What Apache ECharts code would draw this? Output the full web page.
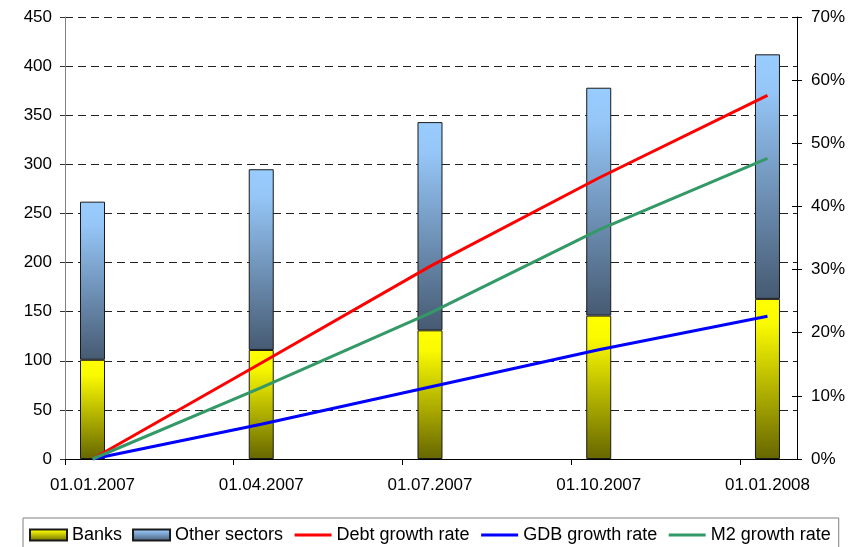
<!DOCTYPE html>
<html>
<head>
<meta charset="utf-8">
<script src="https://cdn.jsdelivr.net/npm/echarts@6/dist/echarts.min.js"></script>
<style>
  html, body { margin: 0; padding: 0; background: #fff; }
  #chart { width: 857px; height: 547px; }
</style>
</head>
<body>
<div id="chart"></div>
<script>
// Quarter dates shown on the horizontal axis
const categories = ['01.01.2007', '01.04.2007', '01.07.2007', '01.10.2007', '01.01.2008'];

// Outstanding debt by borrower (left axis)
const banks = [101, 111, 131, 146, 163];
const otherSectors = [161, 184, 212, 232, 249];

// Cumulative growth rates, % (right axis)
const debtGrowth = [0, 15.2, 30.5, 44.5, 57.6];
const gdbGrowth = [0, 5.5, 11.4, 17.3, 22.6];
const m2Growth = [0, 11.3, 23.1, 36.3, 47.6];

// Axis ticks
const leftTicks = { min: 0, max: 450, step: 50 };
const rightTicks = { min: 0, max: 70, step: 10 };

// Each quarter occupies one unit of the x scale; bars sit a little right of the quarter tick.
const barShift = 0.163;
const xMax = 4.338;

const FONT = '"Liberation Sans", Arial, sans-serif';
// [value, x] pairs; the value comes first so that stacking applies to it
const at = (arr) => arr.map((v, i) => [v, i + barShift]);
const enc = { x: 1, y: 0 };

const chart = echarts.init(document.getElementById('chart'), null, { renderer: 'canvas' });

const vGrad = (top, mid, bottom) => new echarts.graphic.LinearGradient(0, 0, 0, 1, [
  { offset: 0, color: top },
  { offset: 0.15, color: mid },
  { offset: 1, color: bottom }
]);

const noMarker = { color: 'rgba(0,0,0,0)', borderWidth: 0 };
const legendLine = { width: 3 };

chart.setOption({
  animation: false,
  backgroundColor: '#ffffff',
  textStyle: { fontFamily: FONT, color: '#000' },
  grid: { left: 65, right: 60, top: 17, bottom: 88, containLabel: false },
  legend: {
    left: 23,
    top: 518,
    padding: [8, 8, 14, 6],
    borderColor: '#808080',
    borderWidth: 1,
    itemGap: 10,
    itemWidth: 37,
    itemHeight: 11,
    textStyle: { fontFamily: FONT, fontSize: 18, color: '#000' },
    data: [
      { name: 'Banks', icon: 'rect' },
      { name: 'Other sectors', icon: 'rect' },
      { name: 'Debt growth rate', itemStyle: noMarker, lineStyle: legendLine },
      { name: 'GDB growth rate', itemStyle: noMarker, lineStyle: legendLine },
      { name: 'M2 growth rate', itemStyle: noMarker, lineStyle: legendLine }
    ]
  },
  xAxis: {
    type: 'value',
    min: 0,
    max: xMax,
    axisLine: { show: true, onZero: false, lineStyle: { color: '#000', width: 1 } },
    axisTick: {
      show: true,
      length: 6,
      lineStyle: { color: '#000' },
      customValues: categories.map((_, i) => i)
    },
    axisLabel: {
      fontFamily: FONT,
      fontSize: 17,
      color: '#000',
      margin: 18,
      customValues: categories.map((_, i) => i + barShift),
      formatter: (v) => categories[Math.round(v - barShift)] || ''
    },
    splitLine: { show: false }
  },
  yAxis: [
    {
      type: 'value',
      min: leftTicks.min,
      max: leftTicks.max,
      interval: leftTicks.step,
      position: 'left',
      axisLine: { show: true, lineStyle: { color: '#808080', width: 1 } },
      axisTick: { show: true, length: 5, lineStyle: { color: '#333' } },
      axisLabel: { fontFamily: FONT, fontSize: 17, color: '#000', margin: 13 },
      splitLine: { show: true, lineStyle: { color: '#222', type: [8, 5], width: 1 } }
    },
    {
      type: 'value',
      min: rightTicks.min,
      max: rightTicks.max,
      interval: rightTicks.step,
      position: 'right',
      axisLine: { show: true, lineStyle: { color: '#000', width: 1 } },
      axisTick: { show: true, length: 5, lineStyle: { color: '#000' } },
      axisLabel: { fontFamily: FONT, fontSize: 17, color: '#000', margin: 14, formatter: '{value}%' },
      splitLine: { show: false }
    },
    {
      // inner half of the crossing ticks on the right axis
      type: 'value',
      min: rightTicks.min,
      max: rightTicks.max,
      interval: rightTicks.step,
      position: 'right',
      axisLine: { show: false },
      axisTick: { show: true, inside: true, length: 5, lineStyle: { color: '#000' } },
      axisLabel: { show: false },
      splitLine: { show: false }
    }
  ],
  series: [
    {
      name: 'Banks',
      type: 'bar',
      stack: 'debt',
      barWidth: 25,
      yAxisIndex: 0,
      encode: enc,
      itemStyle: {
        color: vGrad('#ffff00', '#fbfb00', '#666600'),
        borderColor: '#1a1a1a',
        borderWidth: 1
      },
      data: at(banks),
      z: 2
    },
    {
      name: 'Other sectors',
      type: 'bar',
      stack: 'debt',
      barWidth: 25,
      yAxisIndex: 0,
      encode: enc,
      itemStyle: {
        color: vGrad('#99ccff', '#95c6f7', '#465a72'),
        borderColor: '#1a1a1a',
        borderWidth: 1
      },
      data: at(otherSectors),
      z: 2
    },
    {
      name: 'Debt growth rate',
      type: 'line',
      yAxisIndex: 1,
      symbol: 'none',
      encode: enc,
      lineStyle: { color: '#ff0000', width: 3 },
      itemStyle: { color: '#ff0000' },
      data: at(debtGrowth),
      z: 5
    },
    {
      name: 'GDB growth rate',
      type: 'line',
      yAxisIndex: 1,
      symbol: 'none',
      encode: enc,
      lineStyle: { color: '#0000ff', width: 3 },
      itemStyle: { color: '#0000ff' },
      data: at(gdbGrowth),
      z: 5
    },
    {
      name: 'M2 growth rate',
      type: 'line',
      yAxisIndex: 1,
      symbol: 'none',
      encode: enc,
      lineStyle: { color: '#339966', width: 3 },
      itemStyle: { color: '#339966' },
      data: at(m2Growth),
      z: 5
    }
  ]
});
</script>
</body>
</html>
